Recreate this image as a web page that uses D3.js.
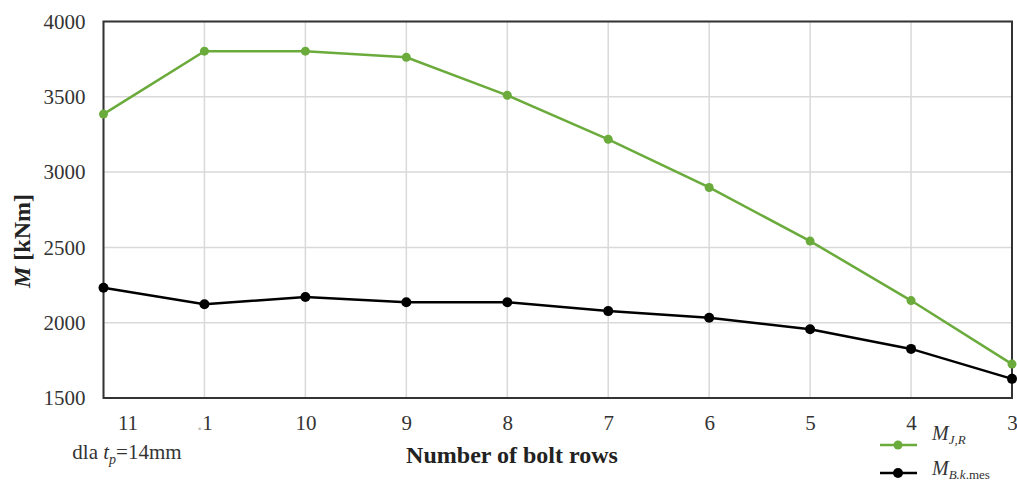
<!DOCTYPE html>
<html><head><meta charset="utf-8">
<script src="https://cdn.jsdelivr.net/npm/d3@7"></script>
<style>
html,body{margin:0;padding:0;background:#fff;}
svg{display:block;}
svg text{font-family:"Liberation Serif","Times New Roman",serif;}
</style></head>
<body><svg id="c" width="1017" height="483"></svg>
<script>
const categories = ["11", "1", "10", "9", "8", "7", "6", "5", "4", "3"];
const mJR = [3385, 3803, 3803, 3762, 3510, 3218, 2898, 2542, 2147, 1725];
const mBkmes = [2232, 2122, 2171, 2136, 2136, 2077, 2033, 1956, 1826, 1627];
const yTicks = [1500, 2000, 2500, 3000, 3500, 4000];

const svg = d3.select("#c");
const L = 103.5, R = 1012, T = 21.5, B = 398;
const x = d3.scalePoint().domain(categories).range([L, R]);
const y = d3.scaleLinear().domain([1500, 4000]).range([B, T]);
const SERIF = '"Liberation Serif", "Times New Roman", serif';

// grid
svg.append("g").selectAll("line.h").data(yTicks).join("line")
  .attr("x1", L).attr("x2", R).attr("y1", d => y(d)).attr("y2", d => y(d))
  .attr("stroke", "#d9d9d9").attr("stroke-width", 1.5);
svg.append("g").selectAll("line.v").data(categories).join("line")
  .attr("x1", d => x(d)).attr("x2", d => x(d)).attr("y1", T).attr("y2", B)
  .attr("stroke", "#d9d9d9").attr("stroke-width", 1.5);

// frame
svg.append("rect").attr("x", L).attr("y", T).attr("width", R - L).attr("height", B - T)
  .attr("fill", "none").attr("stroke", "#333").attr("stroke-width", 2);

// y axis
const yAxis = d3.axisLeft(y).tickValues(yTicks).tickFormat(d3.format("d")).tickSize(0).tickPadding(18);
const gy = svg.append("g").attr("transform", `translate(${L},0)`).call(yAxis);
gy.select(".domain").remove();
gy.attr("font-family", SERIF).attr("font-size", 21);
gy.selectAll("text").style("font-family", SERIF).style("font-size", "21px").attr("fill", "#333");

// x axis
const xAxis = d3.axisBottom(x).tickSize(0).tickPadding(17);
const gx = svg.append("g").attr("transform", `translate(0,${B})`).call(xAxis);
gx.select(".domain").remove();
gx.attr("font-family", SERIF).attr("font-size", 21);
gx.selectAll("text").style("font-family", SERIF).style("font-size", "21px").attr("fill", "#333");
gx.selectAll(".tick").filter((d, i) => i === 0).select("text").attr("dx", 24);
gx.selectAll(".tick").filter((d, i) => i === 1).select("text").text(null)
  .call(t => { t.append("tspan").attr("fill", "#bbb").text("."); t.append("tspan").text("1"); });

// sub label
const sub = svg.append("text").attr("x", 127).attr("y", 459).attr("text-anchor", "middle")
  .style("font-size", "21px").attr("fill", "#333");
sub.append("tspan").text("dla ");
sub.append("tspan").attr("font-style", "italic").text("t");
sub.append("tspan").attr("font-style", "italic").style("font-size", "14px").attr("dy", 5).text("p");
sub.append("tspan").attr("dy", -5).text("=14mm");

// axis titles
svg.append("text").attr("x", 512).attr("y", 463).attr("text-anchor", "middle")
  .style("font-size", "24px").attr("font-weight", "bold").attr("fill", "#222").text("Number of bolt rows");
const yt = svg.append("text").attr("transform", "translate(30,241) rotate(-90)")
  .attr("text-anchor", "middle").style("font-size", "24px").attr("font-weight", "bold").attr("fill", "#222");
yt.append("tspan").attr("font-style", "italic").text("M");
yt.append("tspan").text(" [kNm]");

// series
const series = [
  {name: "MJR", values: mJR, color: "#6aab3c", r: 4.5},
  {name: "MBk", values: mBkmes, color: "#000", r: 5}
];
const line = d3.line().x((d, i) => x(categories[i])).y(d => y(d));
series.forEach(s => {
  svg.append("path").attr("d", line(s.values)).attr("fill", "none")
    .attr("stroke", s.color).attr("stroke-width", 2.5);
  svg.append("g").selectAll("circle").data(s.values).join("circle")
    .attr("cx", (d, i) => x(categories[i])).attr("cy", d => y(d)).attr("r", s.r).attr("fill", s.color);
});

// legend
const lg = [{c: "#6aab3c", y: 445, r: 4.5}, {c: "#000", y: 473, r: 5}];
lg.forEach(l => {
  svg.append("line").attr("x1", 880).attr("x2", 917).attr("y1", l.y).attr("y2", l.y)
    .attr("stroke", l.c).attr("stroke-width", 2.5);
  svg.append("circle").attr("cx", 898).attr("cy", l.y).attr("r", l.r).attr("fill", l.c);
});
const t1 = svg.append("text").attr("x", 932).attr("y", 440).style("font-size", "20px").attr("fill", "#333").attr("font-style", "italic");
t1.append("tspan").text("M");
t1.append("tspan").style("font-size", "13px").attr("dy", 4).text("J,R");
const t2 = svg.append("text").attr("x", 932).attr("y", 475).style("font-size", "20px").attr("fill", "#333");
t2.append("tspan").attr("font-style", "italic").text("M");
t2.append("tspan").style("font-size", "13px").attr("dy", 4).attr("font-style", "italic").text("B.k");
t2.append("tspan").style("font-size", "13px").text(".mes");
</script></body></html>
